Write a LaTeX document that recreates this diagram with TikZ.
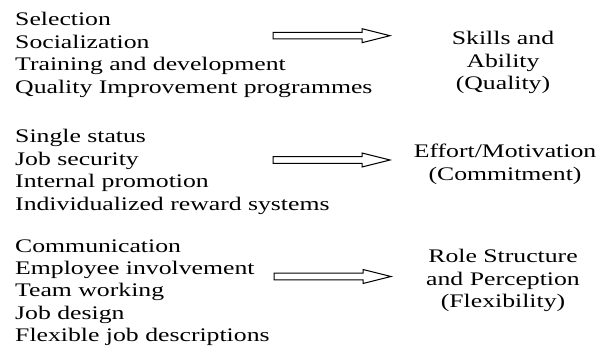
\documentclass[tikz,border=0pt]{standalone}
\usepackage{fontspec}
\setmainfont{Liberation Serif}[FakeStretch=1.34]
\usepackage{tikz}
\tikzset{list/.style={anchor=base west,align=left,inner sep=0pt},
  result/.style={anchor=base,align=center,inner sep=0pt},
  fatarrow/.style={draw=black,line width=1pt,fill=white,line join=miter}}

\begin{document}
\begin{tikzpicture}[x=1pt,y=1pt,font=\fontsize{19.2}{22.4}\selectfont]
    \useasboundingbox (0,0) rectangle (609,-347);
    % practices on the left (placed by the baseline of the last line)
    \node[list] (hr1) at (15,-93.2) {Selection\\Socialization\\Training and development\\Quality Improvement programmes};
    \node[list] (hr2) at (15,-210) {Single status\\Job security\\Internal promotion\\Individualized reward systems};
    \node[list] (hr3) at (15,-341.6) {Communication\\Employee involvement\\Team working\\Job design\\Flexible job descriptions};
    % outcomes on the right
    \node[result] (out1) at (503,-89.5) {Skills and\\Ability\\(Quality)};
    \node[result] (out2) at (505,-180.4) {Effort/Motivation\\(Commitment)};
    \node[result] (out3) at (503,-307.5) {Role Structure\\and Perception\\(Flexibility)};
    % arrow ends
    \coordinate (tail1) at (273,-35.7);
    \coordinate (tail2) at (273,-160);
    \coordinate (tail3) at (274,-276.5);
    \foreach \n in {1,2,3}
      \draw[fatarrow] (tail\n) ++(0,3.3) -- ++(89,0) -- ++(0,3.7) -- ++(28,-7) -- ++(-28,-7) -- ++(0,3.7) -- ++(-89,0) -- cycle;
  \end{tikzpicture}
\end{document}
